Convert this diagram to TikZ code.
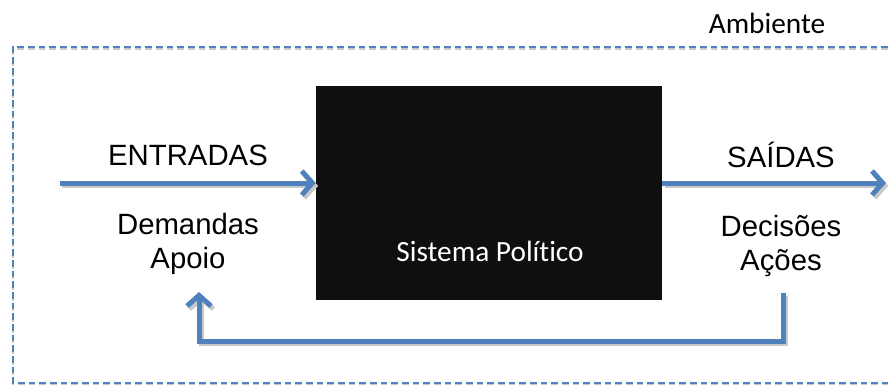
\documentclass[tikz,border=0pt]{standalone}
\usepackage{fontspec}
\setmainfont{Liberation Sans}
\newfontfamily\carlito[Ligatures=CommonOff]{Carlito}
\usepackage{tikz}
\usetikzlibrary{arrows.meta,positioning}

\definecolor{fluxoazul}{HTML}{4F81BD}
\definecolor{sombra}{HTML}{C9C9C9}
\definecolor{caixapreta}{HTML}{0F0F0F}

\begin{document}
\begin{tikzpicture}[x=0.75pt, y=-0.75pt, >={Straight Barb[length=8pt,width=18pt]}]
  \tikzstyle{sysbox} = [fill=caixapreta, draw=none, rectangle, minimum width=259.5pt, minimum height=160.5pt, inner sep=0pt]
  \tikzstyle{rotulo} = [font={\fontsize{22}{25.5}\selectfont}, align=center, inner sep=0pt]
  \tikzstyle{rotuloCal} = [font={\carlito\fontsize{22}{25}\selectfont}, inner sep=0pt]

  \tikzstyle{fluxoPortion} = [fluxoazul, line width=3.75pt, line cap=butt, line join=miter];
  \tikzstyle{fluxo} = [fluxoPortion, ->, preaction={draw=sombra, line width=3.75pt, transform canvas={shift={(1.8pt,-2.2pt)}}}];
  \tikzstyle{limite} = [fluxoazul, line width=1.1pt, dash pattern=on 5pt off 3pt, preaction={draw=sombra, line width=1.1pt, dash pattern=on 5pt off 3pt, transform canvas={shift={(0pt,-1.6pt)}}}];

  \useasboundingbox (0,0) rectangle (888,385);

  % ambiente
  \draw[limite] (888,47) -- (13,47) -- (13,383) -- (888,383);
  \node[rotuloCal] (ambiente) at (767,23) {Ambiente};

  % sistema
  \node[sysbox] (sistema) at (489,193) {};
  \node[rotuloCal, text=white] (nome) at (490,251) {Sistema Político};

  \node[rotulo] (entradas) at (188,155) {ENTRADAS};
  \node[rotulo] (demandas) [below=of entradas, yshift=-7pt] {Demandas\\Apoio};
  \node[rotulo] (saidas)   at (781,155) {SAÍDAS};
  \node[rotulo] (decisoes) [below=of saidas, yshift=-7pt] {Decisões\\Ações};

  \coordinate (inicio) at (60,183);
  \coordinate (fim) at (886,183);
  \coordinate (retorno) at (783,293);
  \coordinate (chegada) at (199,292);

  \draw[fluxo] (inicio) -- (inicio -| sistema.west);
  \draw[fluxo] (sistema.east |- inicio) -- (fim);
  \draw[fluxo] (retorno) -- ++(0,48) -| (chegada);
\end{tikzpicture}
\end{document}
